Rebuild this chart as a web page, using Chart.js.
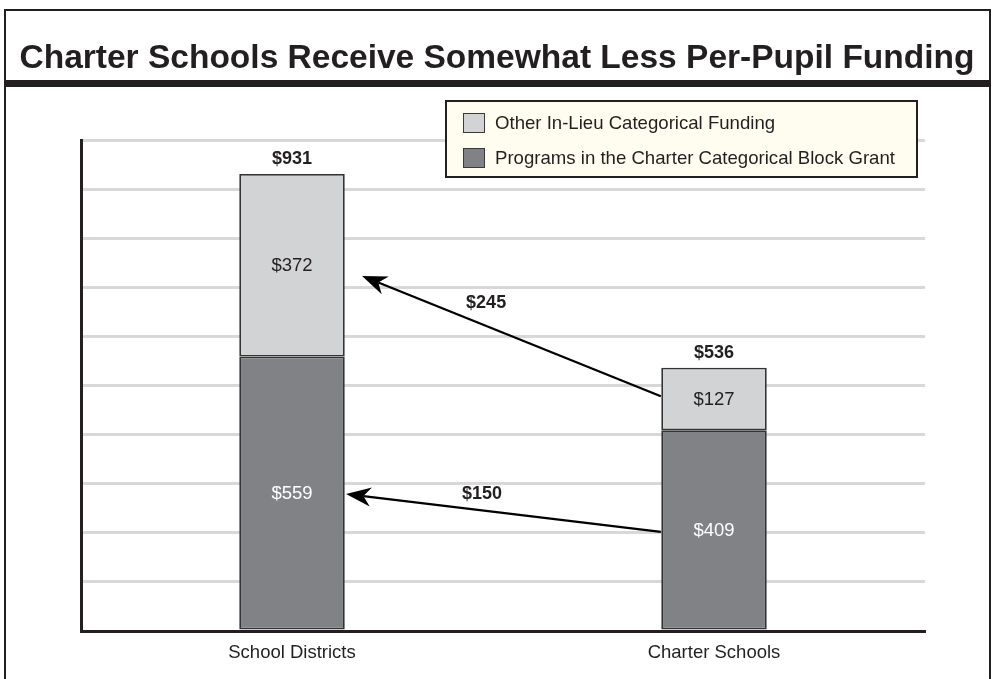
<!DOCTYPE html>
<html>
<head>
<meta charset="utf-8">
<script src="https://cdn.jsdelivr.net/npm/chart.js@4.4.1/dist/chart.umd.min.js"></script>
<style>
  html, body { margin: 0; padding: 0; background: #fff; overflow: hidden; }
  body { width: 992px; height: 679px; position: relative; font-family: "Liberation Sans", Arial, Helvetica, sans-serif; }
  #chart { position: absolute; left: 0; top: 0; }
  #frame { position: absolute; left: 4px; top: 9px; width: 983px; height: 720px; border: 2px solid #231f20; border-bottom: none; }
  #title { position: absolute; left: 5px; top: 38px; width: 984px; text-align: center; font-weight: bold; font-size: 33.5px; letter-spacing: 0px; color: #231f20; white-space: nowrap; }
  #rule { position: absolute; left: 5px; top: 80px; width: 985px; height: 7px; background: #231f20; }
  #legend { position: absolute; left: 445px; top: 100px; width: 469px; height: 74px; background: #fffdf0; border: 2px solid #231f20; }
  .item { position: absolute; left: 16px; height: 21px; font-size: 18.6px; line-height: 21px; color: #231f20; white-space: nowrap; }
  .sw { display: inline-block; width: 20px; height: 18px; border: 1px solid #3a3a3a; vertical-align: top; margin-right: 10px; margin-top: 1px; }
</style>
</head>
<body>
<canvas id="chart" width="992" height="679"></canvas>
<div id="frame"></div>
<div id="title">Charter Schools Receive Somewhat Less Per-Pupil Funding</div>
<div id="rule"></div>
<div id="legend"></div>
<script>
// values
var categories = ['School Districts', 'Charter Schools'];
var blockGrant = [559, 409];
var otherInLieu = [372, 127];
var totals = [931, 536];
var seriesNames = ['Programs in the Charter Categorical Block Grant', 'Other In-Lieu Categorical Funding'];

// arrows showing the gaps (x in category units from the first bar, y in dollars)
var gapLabels = ['$245', '$150'];
var arrowTailX = [0.874, 0.874];
var arrowTailY = [478, 202];
var arrowHeadX = [0.166, 0.128];
var arrowHeadY = [723, 279];
var gapLabelX = [0.46, 0.45];
var gapLabelY = [668, 279];

var FONT = '"Liberation Sans", Arial, Helvetica, sans-serif';
var DARK = '#808285';
var LIGHT = '#d1d3d4';
var INK = '#231f20';

var labelsPlugin = {
    id: 'labels',
    afterDatasetsDraw: function (chart) {
        var ctx = chart.ctx;
        var xs = chart.scales.x, ys = chart.scales.y;
        ctx.save();
        ctx.textAlign = 'center';
        ctx.textBaseline = 'middle';
        // segment values
        chart.data.datasets.forEach(function (ds, di) {
            var meta = chart.getDatasetMeta(di);
            meta.data.forEach(function (el, i) {
                ctx.font = '18.5px ' + FONT;
                ctx.fillStyle = di === 0 ? '#ffffff' : INK;
                ctx.fillText('$' + ds.data[i], el.x, (el.y + el.base) / 2 + 1);
            });
        });
        // totals
        var top = chart.getDatasetMeta(1);
        top.data.forEach(function (el, i) {
            ctx.font = 'bold 18px ' + FONT;
            ctx.fillStyle = INK;
            ctx.fillText('$' + totals[i], el.x, el.y - 15);
        });
        // arrows
        var x0 = xs.getPixelForValue(0), step = xs.getPixelForValue(1) - x0;
        for (var k = 0; k < gapLabels.length; k++) {
            var tx = x0 + arrowTailX[k] * step, ty = ys.getPixelForValue(arrowTailY[k]);
            var hx = x0 + arrowHeadX[k] * step, hy = ys.getPixelForValue(arrowHeadY[k]);
            var len = Math.hypot(hx - tx, hy - ty);
            var ux = (hx - tx) / len, uy = (hy - ty) / len;
            var nx = -uy, ny = ux;
            var L = 25, W = 9.5;
            ctx.strokeStyle = '#000';
            ctx.lineWidth = 2.3;
            ctx.beginPath();
            ctx.moveTo(tx, ty);
            ctx.lineTo(hx - ux * L * 0.7, hy - uy * L * 0.7);
            ctx.stroke();
            ctx.fillStyle = '#000';
            ctx.beginPath();
            ctx.moveTo(hx, hy);
            ctx.lineTo(hx - ux * L + nx * W, hy - uy * L + ny * W);
            ctx.lineTo(hx - ux * L * 0.7, hy - uy * L * 0.7);
            ctx.lineTo(hx - ux * L - nx * W, hy - uy * L - ny * W);
            ctx.closePath();
            ctx.fill();
            ctx.font = 'bold 18px ' + FONT;
            ctx.fillStyle = INK;
            ctx.fillText(gapLabels[k], x0 + gapLabelX[k] * step, ys.getPixelForValue(gapLabelY[k]));
        }
        ctx.restore();
    }
};

var chart = new Chart(document.getElementById('chart'), {
    type: 'bar',
    data: {
        labels: categories,
        datasets: [{
            label: seriesNames[0],
            data: blockGrant,
            backgroundColor: DARK,
            borderColor: '#333333',
            borderWidth: 1.8,
            borderSkipped: false
        }, {
            label: seriesNames[1],
            data: otherInLieu,
            backgroundColor: LIGHT,
            borderColor: '#333333',
            borderWidth: 1.8,
            borderSkipped: false
        }]
    },
    options: {
        responsive: false,
        animation: false,
        events: [],
        categoryPercentage: 1,
        barPercentage: 0.25,
        layout: { padding: { left: 81, right: 67, top: 140, bottom: 0 } },
        plugins: { legend: { display: false }, tooltip: { enabled: false } },
        scales: {
            x: {
                stacked: true,
                grid: { display: false, drawTicks: false },
                border: { display: true, color: INK, width: 3 },
                ticks: { color: INK, padding: 11, font: { family: FONT, size: 18.5 } },
                afterFit: function (s) { s.height = 48; }
            },
            y: {
                stacked: true,
                min: 0,
                max: 1000,
                grid: { color: '#d8d8d8', lineWidth: 3, drawTicks: false },
                border: { display: true, color: INK, width: 3 },
                ticks: { display: false, stepSize: 100 },
                afterFit: function (s) { s.width = 0; }
            }
        }
    },
    plugins: [labelsPlugin]
});

// legend built from the datasets, light series listed first
var legend = document.getElementById('legend');
chart.data.datasets.slice().reverse().forEach(function (ds, i) {
    var row = document.createElement('div');
    row.className = 'item';
    row.style.top = (10 + i * 35) + 'px';
    row.innerHTML = '<span class="sw" style="background:' + ds.backgroundColor + '"></span>' + ds.label;
    legend.appendChild(row);
});
</script>
</body>
</html>
